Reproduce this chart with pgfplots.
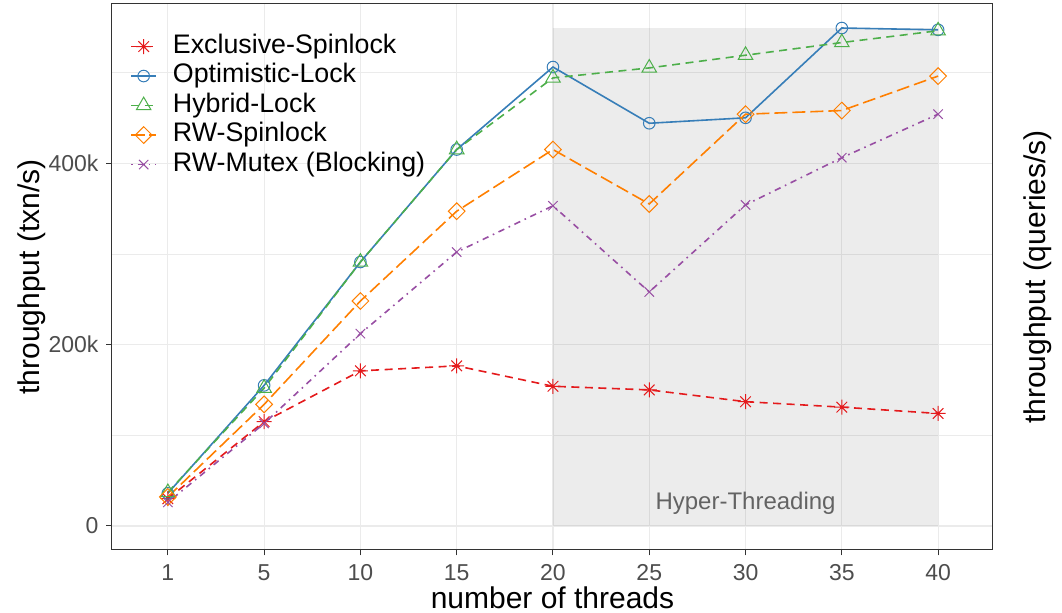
\documentclass[border=0pt]{standalone}
\usepackage{fontspec}
\setmainfont{Liberation Sans}
\usepackage{pgfplots}
\pgfplotsset{compat=1.18}
\definecolor{cred}{HTML}{E41A1C}
\definecolor{cblue}{HTML}{377EB8}
\definecolor{cgreen}{HTML}{4DAF4A}
\definecolor{cpurple}{HTML}{984EA3}
\definecolor{corange}{HTML}{FF7F00}
\definecolor{gridc}{HTML}{EBEBEB}
\definecolor{gtwenty}{HTML}{333333}
\definecolor{gthirty}{HTML}{4D4D4D}
\definecolor{htc}{HTML}{636363}
\pgfdeclareplotmark{star8}{%
  \pgfpathmoveto{\pgfqpoint{-\pgfplotmarksize}{0pt}}\pgfpathlineto{\pgfqpoint{\pgfplotmarksize}{0pt}}%
  \pgfpathmoveto{\pgfqpoint{0pt}{-\pgfplotmarksize}}\pgfpathlineto{\pgfqpoint{0pt}{\pgfplotmarksize}}%
  \pgfpathmoveto{\pgfqpoint{-0.7071\pgfplotmarksize}{-0.7071\pgfplotmarksize}}\pgfpathlineto{\pgfqpoint{0.7071\pgfplotmarksize}{0.7071\pgfplotmarksize}}%
  \pgfpathmoveto{\pgfqpoint{-0.7071\pgfplotmarksize}{0.7071\pgfplotmarksize}}\pgfpathlineto{\pgfqpoint{0.7071\pgfplotmarksize}{-0.7071\pgfplotmarksize}}%
  \pgfusepathqstroke}
\begin{document}
\begin{tikzpicture}
\useasboundingbox (-56pt,-31.5pt) rectangle (475pt,275pt);
\begin{axis}[
  scale only axis, width=440.5pt, height=273pt,
  xmin=-0.58, xmax=8.57, ymin=-26500, ymax=575500,
  xtick={0,1,2,3,4,5,6,7,8},
  xticklabels={1,5,10,15,20,25,30,35,40},
  ytick={0,200000,400000}, yticklabels={0,200k,400k},
  minor ytick={100000,300000,500000},
  scaled y ticks=false,
  xtick pos=bottom, ytick pos=left,
  grid=both,
  major grid style={draw=gridc, line width=0.6pt},
  minor grid style={draw=gridc, line width=0.3pt},
  tick align=outside, major tick length=2.75pt, minor tick length=0pt,
  tick style={draw=gtwenty, line width=0.5pt},
  axis line style={draw=gtwenty, line width=0.5pt},
  tick label style={font=\fontsize{11.5}{13}\selectfont, text=gthirty},
  xticklabel style={yshift=-1pt},
  yticklabel style={xshift=-0.5pt},
  xlabel={number of threads},
  ylabel={throughput (txn/s)},
  label style={font=\fontsize{15}{18}\selectfont},
  xlabel style={at={(axis description cs:0.5,0)}, anchor=base, yshift=-29.5pt},
  ylabel style={at={(axis description cs:0,0.5)}, anchor=base, yshift=36.25pt},
  legend style={at={(rel axis cs:0.0204,0.9498)}, anchor=north west, draw=none, fill=none,
    inner sep=0pt, font=\fontsize{13.4}{15}\selectfont,
    nodes={text height=9.8pt, text depth=2.95pt, inner sep=1pt},
    row sep=0pt,
    /tikz/every odd column/.style={column sep=7pt}},
  legend cell align=left,
  legend image code/.code={\draw[mark repeat=2,mark phase=2,#1] plot coordinates {(0pt,0pt)(6.25pt,0pt)(12.5pt,0pt)};},
]
\addplot[draw=none, fill=black, fill opacity=0.075, forget plot] coordinates {(4,0)(8,0)(8,549000)(4,549000)} \closedcycle;
\node[text=htc, font=\fontsize{12}{14}\selectfont] at (axis cs:6,25000) {Hyper-Threading};

\addplot[cred, line width=0.8pt, dash pattern=on 4pt off 2.75pt, mark=star8, mark size=3.75pt, mark options={solid, line width=0.5pt}]
  coordinates {(0,30000)(1,115000)(2,171000)(3,176500)(4,154000)(5,150000)(6,137000)(7,131000)(8,124000)};
\addlegendentry{Exclusive-Spinlock}
\addplot[cblue, line width=0.8pt, solid, mark=o, mark size=2.9pt, mark options={solid, line width=0.5pt}]
  coordinates {(0,36000)(1,155000)(2,291000)(3,415000)(4,506000)(5,444000)(6,450000)(7,549000)(8,547000)};
\addlegendentry{Optimistic-Lock}
\addplot[cgreen, line width=0.8pt, dash pattern=on 4pt off 2.75pt, mark=triangle, mark size=4.2pt, mark options={solid, line width=0.5pt}]
  coordinates {(0,37000)(1,152000)(2,291000)(3,415000)(4,494000)(5,505000)(6,519000)(7,533000)(8,546000)};
\addlegendentry{Hybrid-Lock}
\addplot[corange, line width=0.8pt, dash pattern=on 6.5pt off 2.5pt, mark=square, mark size=2.95pt, mark options={solid, rotate=45, line width=0.5pt}]
  coordinates {(0,32000)(1,134000)(2,248000)(3,347000)(4,415000)(5,355000)(6,454000)(7,458000)(8,496000)};
\addlegendentry{RW-Spinlock}
\addplot[cpurple, line width=0.8pt, dash pattern=on 0.8pt off 2.4pt on 3.2pt off 2.4pt, mark=x, mark size=3.3pt, mark options={solid, line width=0.5pt}]
  coordinates {(0,26000)(1,113000)(2,212000)(3,302000)(4,353000)(5,258000)(6,354000)(7,406000)(8,454000)};
\addlegendentry{RW-Mutex (Blocking)}
\end{axis}
\node[rotate=90, anchor=base, font=\fontsize{15}{18}\selectfont] at ([xshift=26.5pt]current axis.east) {throughput (queries/s)};
\end{tikzpicture}
\end{document}
